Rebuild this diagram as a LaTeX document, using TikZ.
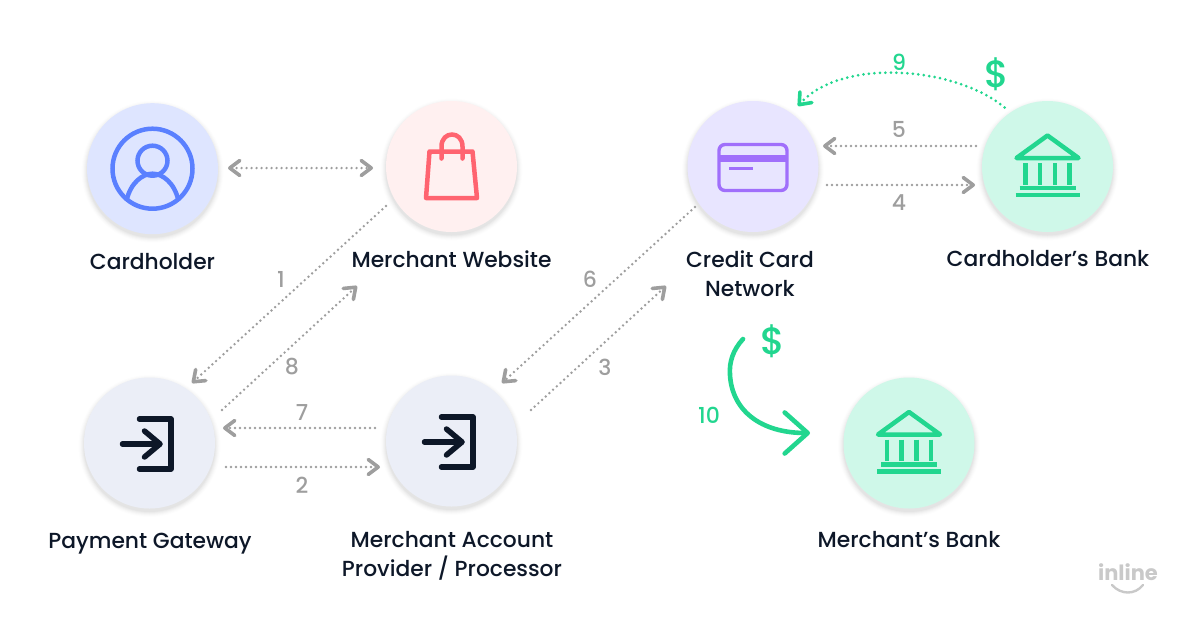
\documentclass[tikz,border=0pt]{standalone}
\usepackage{fontspec}
\setmainfont{Poppins}
\newfontfamily\medfont{Poppins Medium}
\usetikzlibrary{arrows.meta}
\definecolor{ink}{HTML}{0D1728}
\definecolor{greyline}{HTML}{9E9E9E}
\definecolor{mint}{HTML}{22D68F}
\definecolor{bluefg}{HTML}{5A80FF}
\definecolor{bluebg}{HTML}{DEE5FF}
\definecolor{redfg}{HTML}{FF6470}
\definecolor{redbg}{HTML}{FFF0F0}
\definecolor{purplefg}{HTML}{A06FFB}
\definecolor{purplebg}{HTML}{E8E5FF}
\definecolor{mintbg}{HTML}{CFF8E9}
\definecolor{slatebg}{HTML}{EBEEF7}
\definecolor{logogrey}{HTML}{C9C9C9}
\tikzset{
  disc/.style={circle,minimum size=131pt,inner sep=0pt,fill=#1},
  lbl/.style={text=ink,font=\medfont\fontsize{21.8}{29}\selectfont,align=center,inner sep=0pt},
  num/.style={text=greyline,font=\medfont\fontsize{22}{25}\selectfont,inner sep=0pt},
  gnum/.style={text=mint,font=\medfont\fontsize{22}{25}\selectfont,inner sep=0pt},
  dollar/.style={text=mint,font=\medfont\fontsize{38}{42}\selectfont,inner sep=0pt},
  dotline/.style={draw=greyline,line width=2.7pt,line cap=round,dash pattern=on 0pt off 5pt},
  greytip/.style={-{Straight Barb[round,length=10pt,width=15pt,line width=3.6pt]}},
  greytips/.style={{Straight Barb[round,length=10pt,width=15pt,line width=3.6pt]}-{Straight Barb[round,length=10pt,width=15pt,line width=3.6pt]}},
  pics/personicon/.style={code={
    \draw[bluefg,line width=4.5pt] (0,0) circle (40pt);
    \draw[bluefg,line width=4.5pt] (0,-8) circle (15pt);
    \draw[bluefg,line width=4.5pt] (-26,32) .. controls (-22,14) and (-10,5) .. (0,5) .. controls (10,5) and (22,14) .. (26,32);
  }},
  pics/bagicon/.style={code={
    \draw[redfg,line width=4.5pt,line join=round] (-22,-15) -- (21,-15) -- (25.5,31.5) -- (-25.5,31.5) -- cycle;
    \draw[redfg,line width=4.5pt,line cap=round] (-10,-8) -- (-10,-20) .. controls (-10,-36) and (11,-36) .. (11,-20) -- (11,-8);
  }},
  pics/cardicon/.style={code={
    \draw[purplefg,line width=3.4pt,rounded corners=6pt] (-34,-22) rectangle (34,24);
    \fill[purplefg] (-34,-12) rectangle (34,-4.5);
    \draw[purplefg,line width=2.4pt] (-24,2) -- (0,2);
  }},
  pics/bankicon/.style={code={
    \draw[mint,line width=4.5pt,line join=round] (0,-31) -- (-31,-8.5) -- (31,-8.5) -- cycle;
    \foreach \cx in {-22,-7.3,7.3,22} \draw[mint,line width=4.5pt] (\cx,-3.5) -- (\cx,18);
    \draw[mint,line width=4.5pt] (-28,21.5) -- (28,21.5);
    \draw[mint,line width=4.5pt] (-32,28.5) -- (32,28.5);
  }},
  pics/loginicon/.style={code={
    \draw[ink,line width=5.5pt,line cap=round,line join=round] (-10,-24) -- (21.5,-24) -- (21.5,26) -- (-10,26);
    \draw[ink,line width=5.5pt,line cap=round] (-27,1) -- (10,1);
    \draw[ink,line width=5.5pt,line cap=round,line join=round] (-5,-12) -- (10.5,1) -- (-5,14);
  }},
}
\newcommand{\softshadow}[2]{%
  \foreach \sr/\sop in {71/.008,70/.012,69/.016,68/.02,67/.025,66/.03}
    \fill[black,opacity=\sop] (#1,#2+3) circle (\sr pt);}
\begin{document}
\begin{tikzpicture}[x=1pt,y=-1pt]
\useasboundingbox (0,0) rectangle (1200,630);
\softshadow{152.5}{168.7}
\softshadow{451.5}{166.5}
\softshadow{753}{166.5}
\softshadow{1047.5}{166.5}
\softshadow{149.5}{443}
\softshadow{451.5}{441}
\softshadow{909}{443}
\node[disc=bluebg] (holder) at (152.5,168.7) {};
\node[disc=redbg] (site) at (451.5,166.5) {};
\node[disc=purplebg] (network) at (753,166.5) {};
\node[disc=mintbg] (hbank) at (1047.5,166.5) {};
\node[disc=slatebg] (gateway) at (149.5,443) {};
\node[disc=slatebg] (provider) at (451.5,441) {};
\node[disc=mintbg] (mbank) at (909,443) {};
\pic at (holder) {personicon};
\pic at (site) {bagicon};
\pic at (network) {cardicon};
\pic at (hbank) {bankicon};
\pic at (mbank) {bankicon};
\pic at (gateway) {loginicon};
\pic at (provider) {loginicon};
% labels
\node[lbl] (tholder) at (152.5,262) {Cardholder};
\node[lbl] (tsite) at (451.5,259.5) {Merchant Website};
\node[lbl] (tnetwork) at (750,273.5) {Credit Card\\Network};
\node[lbl] (thbank) at (1048,258.5) {Cardholder’s Bank};
\node[lbl] (tgateway) at (150,544) {Payment Gateway};
\node[lbl] (tprovider) at (452,555.5) {Merchant Account\\Provider / Processor};
\node[lbl] (tmbank) at (909,539.5) {Merchant’s Bank};
% numbers
\node[num] (n1) at (281,279) {1};
\node[num] (n8) at (292,367) {8};
\node[num] (n7) at (302,413) {7};
\node[num] (n2) at (302,485) {2};
\node[num] (n6) at (590,279) {6};
\node[num] (n3) at (605,367) {3};
\node[num] (n5) at (899,129) {5};
\node[num] (n4) at (899,203) {4};
\node[gnum] (n9) at (899,62) {9};
\node[gnum] (n10) at (709,415) {10};
\node[dollar] (d1) at (996.5,74) {\$};
\node[dollar] (d2) at (773,341) {\$};
% connectors
\draw[dotline,greytips] ([shift={(75.5,-0.7)}]holder.center) -- ([shift={(-78.5,1.5)}]site.center);
\draw[dotline,greytip] ([shift={(-65.5,39.5)}]site.center) -- ([shift={(42.5,-60)}]gateway.center);
\draw[dotline,greytip] ([shift={(72.5,-33)}]gateway.center) -- ([shift={(-94.5,119.5)}]site.center);
\draw[dotline,greytip] ([shift={(-76.5,-13)}]provider.center) -- ([shift={(73.5,-15)}]gateway.center);
\draw[dotline,greytip] ([shift={(76.5,24)}]gateway.center) -- ([shift={(-71.5,26)}]provider.center);
\draw[dotline,greytip] ([shift={(-58,40.5)}]network.center) -- ([shift={(50.5,-58)}]provider.center);
\draw[dotline,greytip] ([shift={(79.5,-31)}]provider.center) -- ([shift={(-87,119.5)}]network.center);
\draw[dotline,greytip] ([shift={(-71.5,-20.5)}]hbank.center) -- ([shift={(70,-20.5)}]network.center);
\draw[dotline,greytip] ([shift={(74,18.5)}]network.center) -- ([shift={(-72.5,18.5)}]hbank.center);
\draw[draw=mint,line width=3pt,line cap=round,dash pattern=on 0pt off 5.5pt,-{Straight Barb[round,length=10pt,width=16pt,line width=3.6pt]}]
  ([shift={(-43,-59)}]hbank.center) .. controls ([shift={(-90,-99)}]hbank.center) and ([shift={(-205,-110)}]hbank.center) .. ([shift={(45,-60.5)}]network.center);
\draw[draw=mint,line width=4.6pt,line cap=round,-{Straight Barb[round,length=23pt,width=41pt,line width=4.6pt]}]
  ([shift={(-166,-104)}]mbank.center) .. controls ([shift={(-176,-93)}]mbank.center) and ([shift={(-180,-81)}]mbank.center) .. ([shift={(-179,-68)}]mbank.center)
  .. controls ([shift={(-177,-33)}]mbank.center) and ([shift={(-149,-10)}]mbank.center) .. ([shift={(-99,-10)}]mbank.center);
% logo
\node[text=logogrey,font=\fontsize{21}{24}\selectfont\bfseries,inner sep=0pt] (logo) at (1128,572) {inline};
\draw[logogrey,line width=2.4pt,line cap=round] ([shift={(-16,13)}]logo.center) .. controls ([shift={(-7,23)}]logo.center) and ([shift={(7,23)}]logo.center) .. ([shift={(15,13)}]logo.center);
\end{tikzpicture}
\end{document}
